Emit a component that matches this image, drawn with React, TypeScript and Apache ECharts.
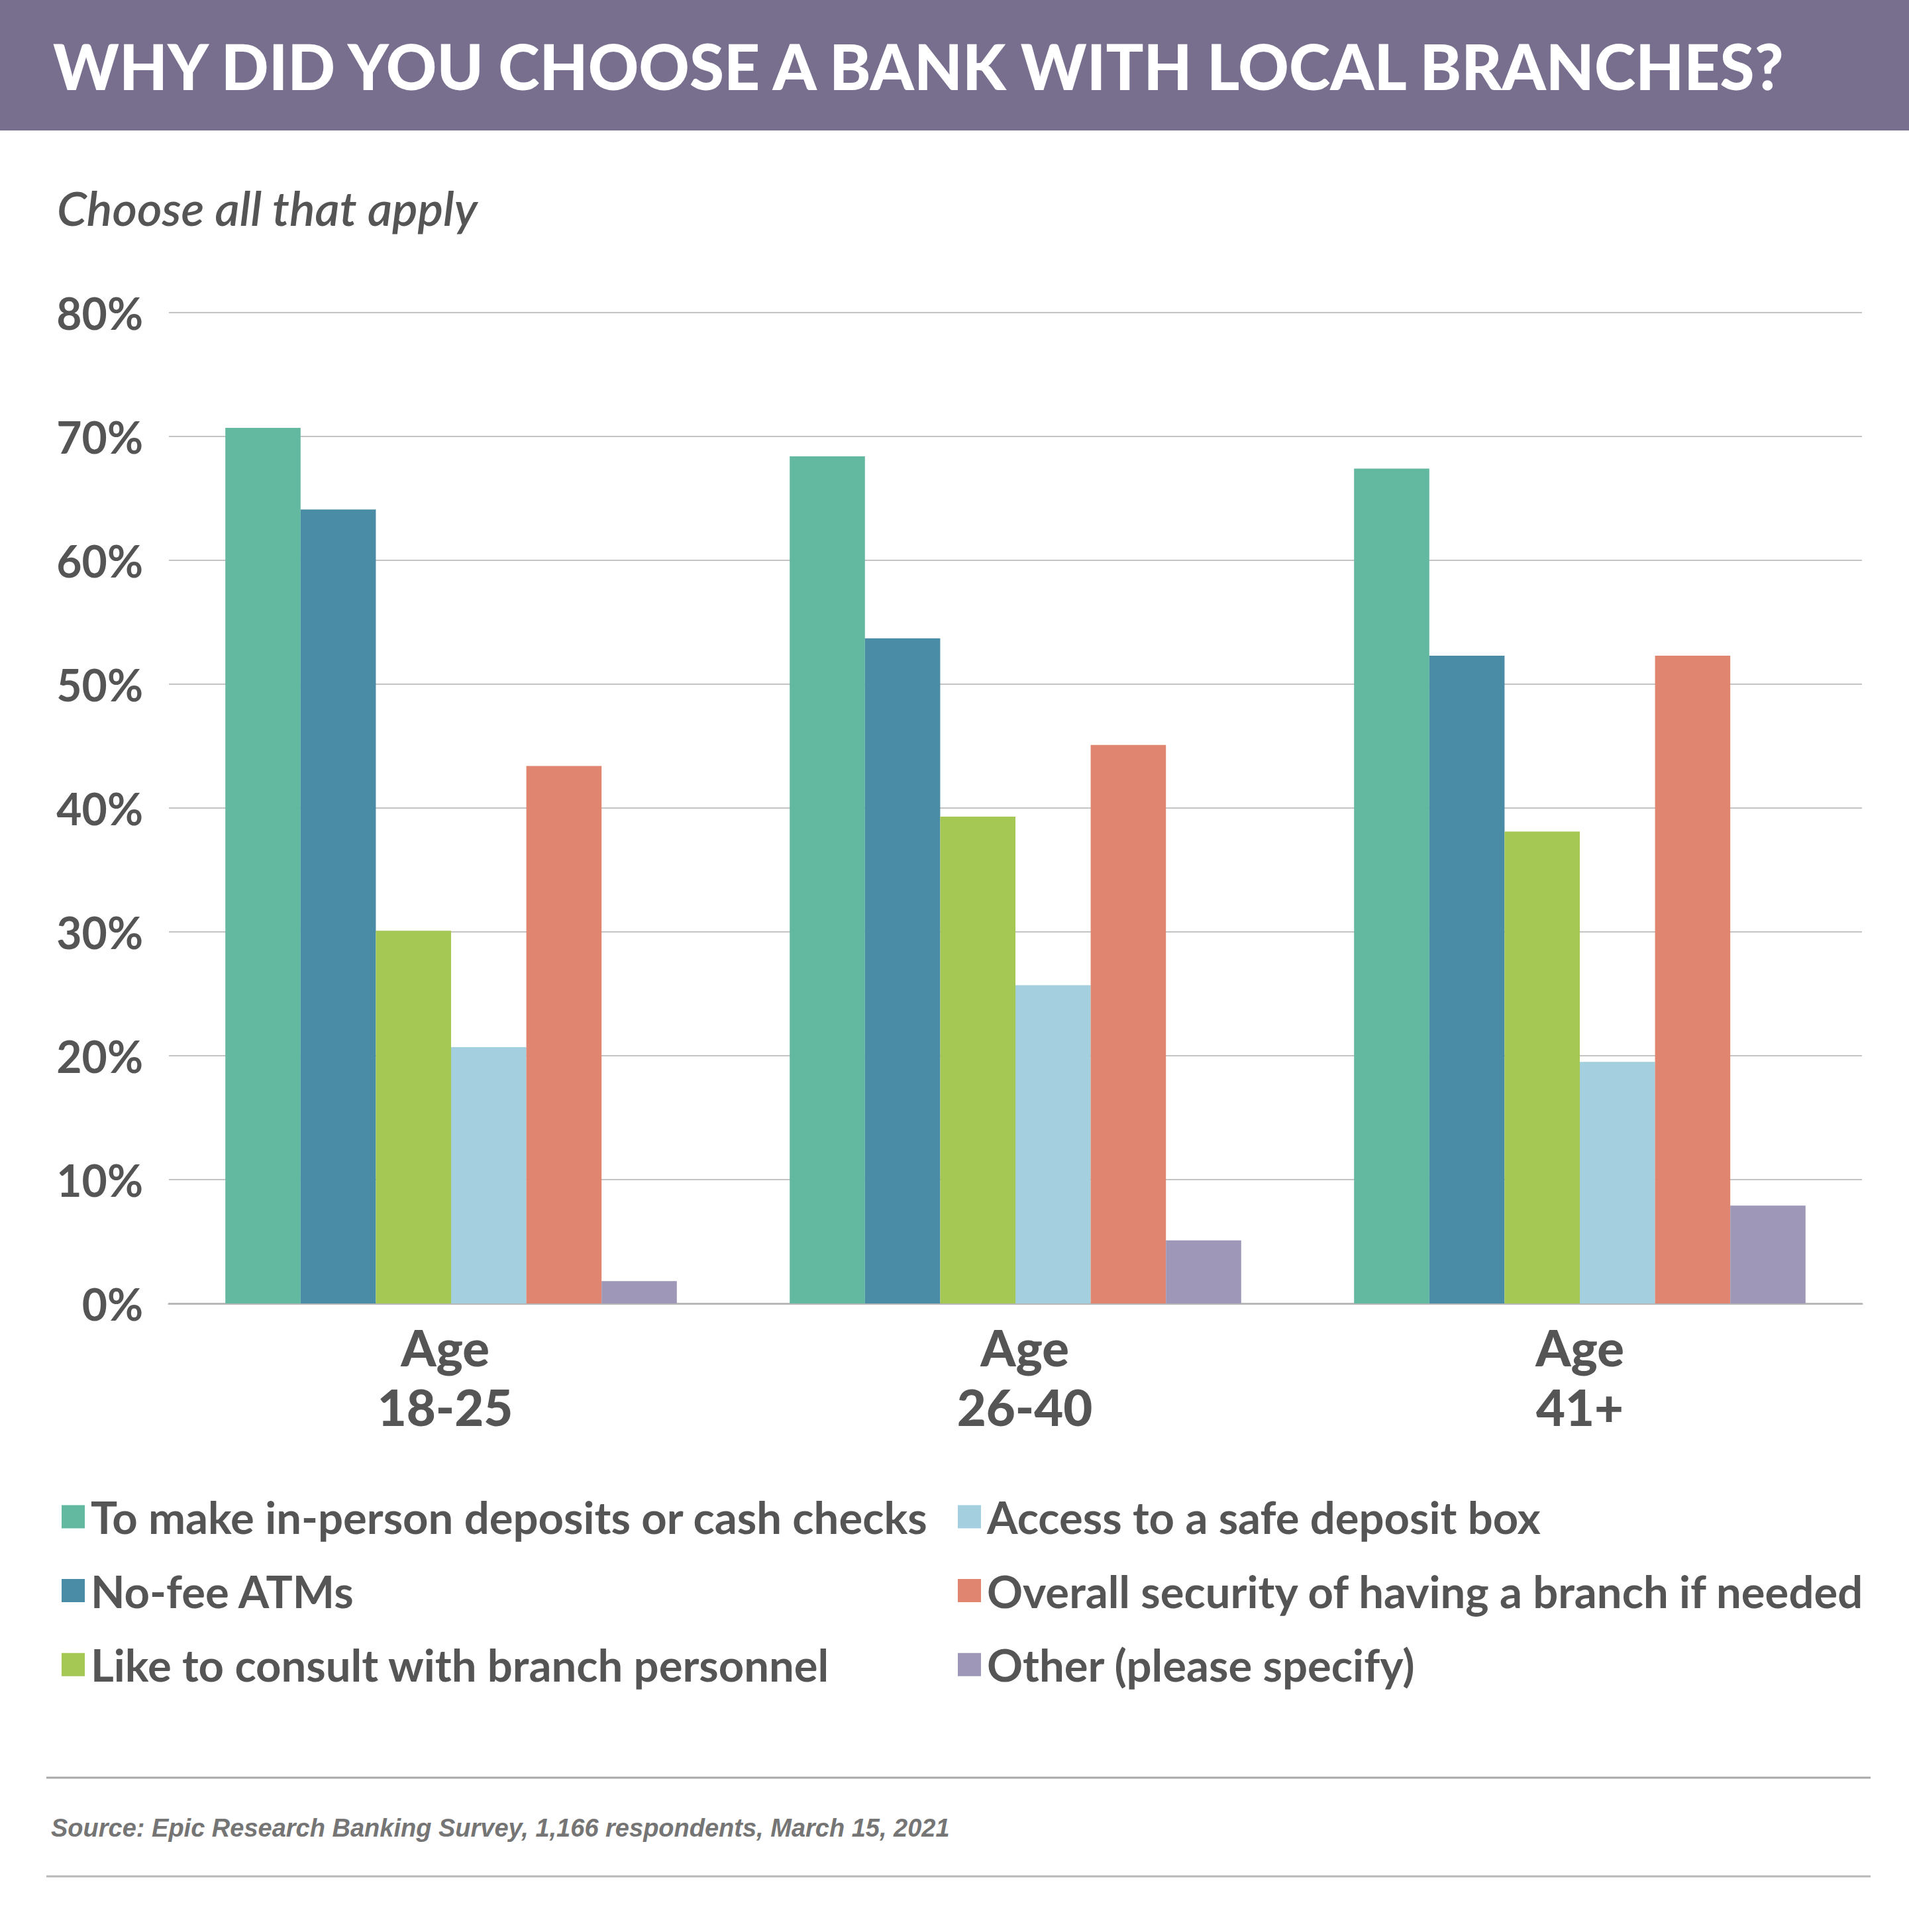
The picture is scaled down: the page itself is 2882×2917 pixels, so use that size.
import React, { useEffect, useRef } from 'react';
import * as echarts from 'echarts';

const W = 2882;
const H = 2917;

const categories = ['Age\n18-25', 'Age\n26-40', 'Age\n41+'];
const seriesNames = [
  'To make in-person deposits or cash checks',
  'No-fee ATMs',
  'Like to consult with branch personnel',
  'Access to a safe deposit box',
  'Overall security of having a branch if needed',
  'Other (please specify)',
];
const inPersonDeposits = [70.7, 68.4, 67.4];
const noFeeATMs = [64.1, 53.7, 52.3];
const consultPersonnel = [30.1, 39.3, 38.1];
const safeDepositBox = [20.7, 25.7, 19.5];
const overallSecurity = [43.4, 45.1, 52.3];
const otherSpecify = [1.8, 5.1, 7.9];
const seriesValues = [inPersonDeposits, noFeeATMs, consultPersonnel, safeDepositBox, overallSecurity, otherSpecify];
const colors = ['#63B8A0', '#4A8BA6', '#A5C753', '#A3CFDF', '#E08670', '#9E97B8'];

const titleText = 'WHY DID YOU CHOOSE A BANK WITH LOCAL BRANCHES?';
const subtitleText = 'Choose all that apply';
const sourceText = 'Source: Epic Research Banking Survey, 1,166 respondents, March 15, 2021';

const TEXT = '#555555';
// label paddings [top, right, bottom, left] to nudge category labels like the original layout
const labelPads = [
  [0, 18, 0, 0],
  [0, 0, 0, 28],
  [0, 0, 0, 0],
];

export default function App() {
  const ref = useRef<HTMLDivElement>(null);
  useEffect(() => {
    document.body.style.margin = '0';
    const chart = echarts.init(ref.current!, null, { renderer: 'svg', width: W, height: H });
    const legendText = {
      color: TEXT,
      fontFamily: 'Lato',
      fontWeight: 'bold' as const,
      fontSize: 67,
      lineHeight: 70,
      padding: [0, 0, 0, 4],
    };
    chart.setOption({
      animation: false,
      backgroundColor: '#ffffff',
      textStyle: { fontFamily: 'Lato' },
      grid: { left: 255, right: 71, top: 472, bottom: H - 1968, containLabel: false },
      legend: [
        {
          data: seriesNames.slice(0, 3),
          orient: 'vertical',
          left: 88,
          top: 2250,
          itemWidth: 35,
          itemHeight: 35,
          itemGap: 41.6,
          icon: 'rect',
          selectedMode: false,
          textStyle: legendText,
        },
        {
          data: seriesNames.slice(3, 6),
          orient: 'vertical',
          left: 1441,
          top: 2250,
          itemWidth: 35,
          itemHeight: 35,
          itemGap: 41.6,
          icon: 'rect',
          selectedMode: false,
          textStyle: legendText,
        },
      ],
      xAxis: {
        type: 'category',
        data: categories.map((c, i) => ({ value: c, textStyle: { padding: labelPads[i] } })),
        axisTick: { show: false },
        axisLine: { show: true, lineStyle: { color: '#b8b8b8', width: 3 } },
        axisLabel: {
          color: TEXT,
          fontFamily: 'Lato',
          fontWeight: 900,
          fontSize: 76,
          lineHeight: 90,
          margin: 20,
        },
      },
      yAxis: {
        type: 'value',
        min: 0,
        max: 80,
        interval: 10,
        axisLine: { show: false },
        axisTick: { show: false },
        splitLine: { lineStyle: { color: '#c4c4c4', width: 2 } },
        axisLabel: {
          formatter: '{value}%',
          color: TEXT,
          fontFamily: 'Lato',
          fontWeight: 'bold',
          fontSize: 66,
          margin: 39,
        },
      },
      series: seriesNames.map((name, i) => ({
        name,
        type: 'bar',
        data: seriesValues[i],
        barGap: '0%',
        barCategoryGap: '20%',
        itemStyle: { color: colors[i] },
      })),
      graphic: [
        { type: 'rect', left: 0, top: 0, shape: { x: 0, y: 0, width: W, height: 197 }, style: { fill: '#786F8F' } },
        {
          type: 'text',
          x: 80,
          y: 99,
          style: {
            text: titleText,
            fill: '#ffffff',
            font: '900 94.5px Lato',
            textVerticalAlign: 'middle',
          },
        },
        {
          type: 'text',
          x: 86,
          y: 313,
          style: {
            text: subtitleText,
            fill: TEXT,
            font: 'italic 600 72px Lato',
            textVerticalAlign: 'middle',
          },
        },
        {
          type: 'line',
          shape: { x1: 70, y1: 2684, x2: 2824, y2: 2684 },
          style: { stroke: '#a8a8a8', lineWidth: 3 },
        },
        {
          type: 'text',
          x: 77,
          y: 2760,
          style: {
            text: sourceText,
            fill: '#757575',
            font: 'italic bold 38px "Liberation Sans", Arial, sans-serif',
            textVerticalAlign: 'middle',
          },
        },
        {
          type: 'line',
          shape: { x1: 70, y1: 2833, x2: 2824, y2: 2833 },
          style: { stroke: '#b8b8b8', lineWidth: 3 },
        },
      ],
    });
    return () => chart.dispose();
  }, []);
  return <div ref={ref} style={{ width: W, height: H }} />;
}
